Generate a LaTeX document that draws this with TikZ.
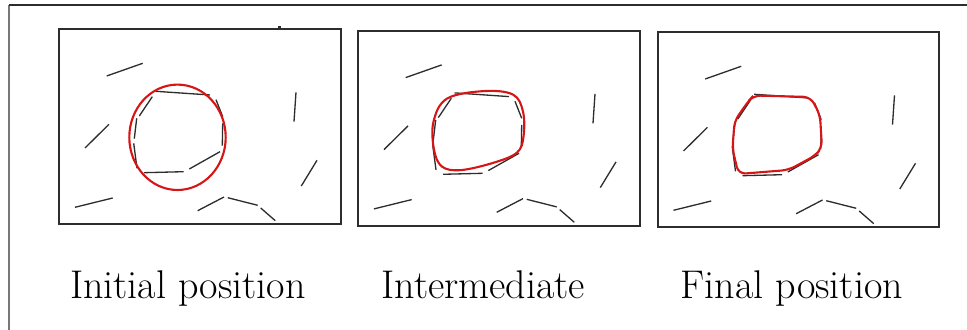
\documentclass[tikz,border=0pt]{standalone}
\usetikzlibrary{positioning}
\definecolor{ink}{RGB}{45,45,45}
\definecolor{edge}{RGB}{120,120,120}
\definecolor{snake}{RGB}{214,22,22}
\tikzset{
  panel/.style={draw=ink,line width=1.1pt},
  seg/.style={draw=ink,line width=0.75pt},
  snk/.style={draw=snake,line width=1.2pt},
  lbl/.style={font=\fontsize{22.8}{27}\selectfont,inner sep=0pt,anchor=base}
}

\begin{document}
\begin{tikzpicture}[x=0.02cm,y=-0.02cm]
  \useasboundingbox (0,0) rectangle (967,330);
  \draw[edge,line width=1.1pt] (9,5)--(9,330);
  \draw[ink,line width=0.8pt] (9,5)--(967,5);
  \fill[ink] (277.5,26.5) rectangle (281,28.3);
  \foreach \dx/\dy in {0/0,299/1.6,598.5/3}{
    \begin{scope}[shift={(\dx,\dy)}]
      \draw[panel] (59.3,29.3) rectangle (340.7,224);
      \foreach \a/\b/\c/\d in {106.7/76/142.7/63.3,85/148/109/124.3,75/207.3/112.7/198,296/92.3/294/121.7,301.3/186/317/160.3,197.7/210.7/224/197,227.7/197.7/257.7/205.3,260.7/208/275.3/220.7,155.7/91.3/210/95,139.3/116/152.3/96.7,216/99.7/222.7/116.7,134.3/138.7/136.7/118.3,222.7/123.3/222.3/145.7,133.7/143.3/137/168.3,144/172.7/183.7/171.7,189.3/169/220/151.7}
        \draw[seg] (\a,\b)--(\c,\d);
    \end{scope}
  }
  \draw[snk] (177.5,137.3) ellipse [x radius=48.2,y radius=52.7];
  \begin{scope}[shift={(299,1.6)}]
    \draw[snk] plot[smooth cycle,tension=0.6] coordinates {(148,97) (185,89.5) (214,93) (224,110) (224.5,135) (218,151) (195,161) (162,168.5) (143,165) (135,148) (134.5,120)};
  \end{scope}
  \begin{scope}[shift={(598.5,3)}]
    \draw[snk,rounded corners=4pt] (155,92.5)--(212,94)--(221.5,112)--(223.5,145)--(216,153)--(190,167)--(140,171)--(134,146)--(136,118)--(150,98)--cycle;
  \end{scope}
  \node[lbl] (init) at (188,298.3) {Initial position};
  \node[lbl] (inter) at (483.3,298.3) {Intermediate};
  \node[lbl] (final) at (791.7,298.3) {Final position};
\end{tikzpicture}
\end{document}
